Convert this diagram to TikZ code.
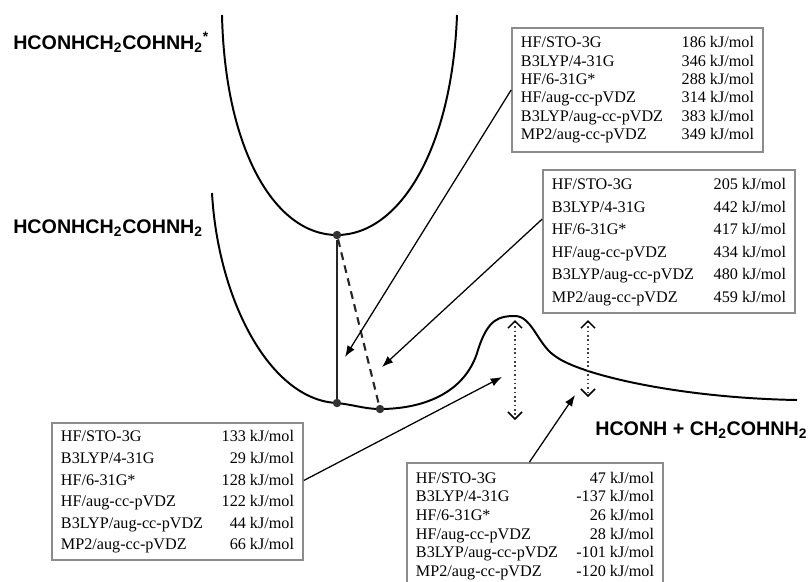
\documentclass[tikz,border=0pt]{standalone}
\usepackage{fontspec}
\setmainfont{Liberation Serif}
\newfontfamily\lblfont{Liberation Sans}
\usetikzlibrary{arrows.meta}

% six methods, one value each: width, line skip, values
\newcommand{\energies}[8]{%
  \fontsize{11.5}{#2}\selectfont
  \begin{tabular*}{#1}{@{}l@{\extracolsep{\fill}}r@{}}
    HF/STO-3G & #3 kJ/mol\\
    B3LYP/4-31G & #4 kJ/mol\\
    HF/6-31G* & #5 kJ/mol\\
    HF/aug-cc-pVDZ & #6 kJ/mol\\
    B3LYP/aug-cc-pVDZ & #7 kJ/mol\\
    MP2/aug-cc-pVDZ & #8 kJ/mol
  \end{tabular*}}

\tikzset{
  ebox/.style={draw=black!45, line width=1.2pt, fill=white, inner xsep=0.225cm, inner ysep=0pt},
  curve/.style={line width=1.4pt},
  arr/.style={line width=0.9pt, -{Latex[length=8pt,width=6pt]}},
  gap/.style={dotted, line width=1.1pt, black!75,
    {Straight Barb[length=5pt,width=10pt,black]}-{Straight Barb[length=5pt,width=10pt,black]}},
  dot/.style={circle, fill=black!80, minimum size=6pt, inner sep=0pt},
  lbl/.style={font=\lblfont\bfseries\fontsize{14}{16}\selectfont, inner sep=0pt, anchor=base west},
}

\begin{document}
\begin{tikzpicture}[x=0.025cm, y=-0.025cm]
  \useasboundingbox (0,0) rectangle (809,581);

  % potential curves
  \draw[curve] (222,15) .. controls (225,150) and (275,235) .. (337,235)
    .. controls (399,235) and (452,150) .. (457,15);
  \draw[curve] (212,193) .. controls (218,300) and (270,400) .. (337,403)
    .. controls (355,405) and (365,409) .. (380,409)
    .. controls (420,409) and (465,395) .. (478,350)
    .. controls (488,318) and (500,316) .. (515,316)
    .. controls (532,316) and (538,345) .. (555,356)
    .. controls (580,375) and (680,398) .. (797,400);

  \node[lbl] (exclbl) at (13,49) {HCONHCH\textsubscript{2}COHNH\textsubscript{2}\textsuperscript{*}};
  \node[lbl] (gslbl) at (13,233) {HCONHCH\textsubscript{2}COHNH\textsubscript{2}};
  \node[lbl] (prodlbl) at (595,435) {HCONH + CH\textsubscript{2}COHNH\textsubscript{2}};

  \node[dot] (excmin) at (337,235) {};
  \node[dot] (gsvert) at (337,403) {};
  \node[dot] (gsmin) at (380,409) {};
  \draw[line width=1.1pt, black!85] (excmin) -- (gsvert);
  \draw[line width=1.5pt, black!85, dash pattern=on 5.5pt off 4pt] (excmin) -- (gsmin);

  % energy gaps
  \coordinate (tstop) at (515,320);
  \coordinate (tsbot) at (515,420);
  \coordinate (prtop) at (588,320);
  \coordinate (prbot) at (588,397);
  \draw[gap] (tstop) -- (tsbot);
  \draw[gap] (prtop) -- (prbot);

  % tables
  \node[ebox, minimum width=6.275cm, minimum height=3.1cm] (vertbox) at (637.5,90)
    {\energies{5.825cm}{13.1pt}{186}{346}{288}{314}{383}{349}};
  \node[ebox, minimum width=6.3cm, minimum height=3.575cm] (adiabox) at (669,241.5)
    {\energies{5.85cm}{16.1pt}{205}{442}{417}{434}{480}{459}};
  \node[ebox, minimum width=6.275cm, minimum height=3.425cm] (barrbox) at (177.5,491.5)
    {\energies{5.825cm}{15.4pt}{133}{29}{128}{122}{44}{66}};
  \node[ebox, minimum width=6.4cm, minimum height=3.15cm] (reacbox) at (535,526)
    {\energies{5.95cm}{13.2pt}{47}{-137}{26}{28}{-101}{-120}};

  \coordinate (tipa) at (345,357);
  \coordinate (tipb) at (382,367);
  \coordinate (tipc) at (502,377);
  \coordinate (tipd) at (575,395);
  \draw[arr] (vertbox.west) -- (tipa);
  \draw[arr] (adiabox.170) -- (tipb);
  \draw[arr] (barrbox.5) -- (tipc);
  \draw[arr] (reacbox.95) -- (tipd);
\end{tikzpicture}
\end{document}
